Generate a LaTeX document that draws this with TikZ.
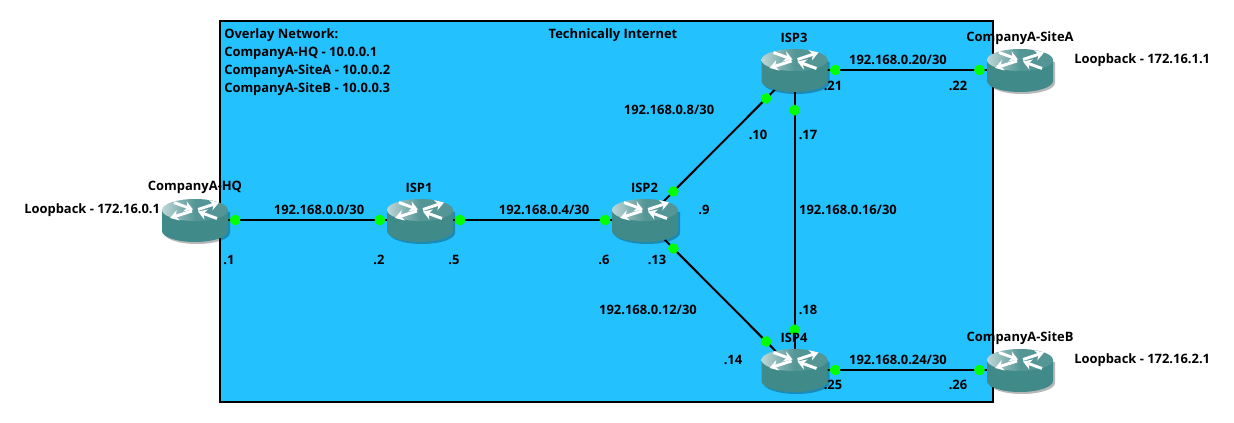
\documentclass[tikz,border=0pt]{standalone}
\usepackage{fontspec}
\setmainfont{Open Sans}
\usetikzlibrary{arrows.meta}
\definecolor{netblue}{RGB}{36,193,255}
\definecolor{routerbody}{RGB}{64,138,138}
\definecolor{routertop}{RGB}{84,150,150}
\definecolor{routerlight}{RGB}{190,214,214}
\definecolor{portgreen}{RGB}{0,255,0}
\tikzset{
    routerbox/.style={inner sep=0pt,minimum width=49.5pt,minimum height=32pt},
    link/.style={draw=black,line width=1.5pt},
    portdot/.style={circle,fill=portgreen,inner sep=0pt,minimum size=8pt},
    lbl/.style={font=\bfseries\fontsize{9.7}{11}\selectfont,text=black,inner sep=0pt,yshift=-.5pt},
    wing/.style={white,line width=2.2pt,-{Stealth[length=6.5pt,width=8pt]}},
    pics/router/.style={code={
        \fill[black,opacity=.28] (-31,-8) -- (-31,13) arc[start angle=180,end angle=360,x radius=24.75pt,y radius=8.25pt] -- (35,-8) -- cycle;
        \fill[routerbody] (-33,-10) -- (-33,11) arc[start angle=180,end angle=360,x radius=24.75pt,y radius=8.25pt] -- (33,-10) -- cycle;
        \shade[left color=routerlight,right color=routertop,middle color=routertop] (0,-10) ellipse[x radius=24.75pt,y radius=8.25pt];
        % arrows on the top
        \draw[wing] (-21,-17.5) -- (-2,-10.5);
        \draw[wing] (3,-10.5) -- (24,-17.5);
        \draw[wing] (-3,-9) -- (-25,-2);
        \draw[wing] (22,-1.5) -- (3,-8.5);
    }}
}
\begin{document}
\begin{tikzpicture}[x=.75pt,y=-.75pt]
    \useasboundingbox (0,0) rectangle (1234,423);
    % overlay box
    \draw[fill=netblue,line width=1.5pt] (220,21) rectangle (993,402);

    % routers
    \node[routerbox] (hq) at (195,220) {};
    \node[routerbox] (isp1) at (420,220) {};
    \node[routerbox] (isp2) at (645,220) {};
    \node[routerbox] (isp3) at (794.5,70) {};
    \node[routerbox] (isp4) at (794.5,370) {};
    \node[routerbox] (sitea) at (1020,70) {};
    \node[routerbox] (siteb) at (1020,370) {};

    % links
    \draw[link] (hq.center) -- (isp1.center) node[portdot,pos=.178] (p1) {} node[portdot,pos=.822] (p2) {};
    \draw[link] (isp1.center) -- (isp2.center) node[portdot,pos=.178] (p5) {} node[portdot,pos=.822] (p6) {};
    \draw[link] (isp2.center) -- (isp3.center) node[portdot,pos=.19] (p9) {} node[portdot,pos=.81] (p10) {};
    \draw[link] (isp2.center) -- (isp4.center) node[portdot,pos=.19] (p13) {} node[portdot,pos=.81] (p14) {};
    \draw[link] (isp3.center) -- (isp4.center) node[portdot,pos=.134] (p17) {} node[portdot,pos=.866] (p18) {};
    \draw[link] (isp3.center) -- (sitea.center) node[portdot,pos=.18] (p21) {} node[portdot,pos=.82] (p22) {};
    \draw[link] (isp4.center) -- (siteb.center) node[portdot,pos=.18] (p25) {} node[portdot,pos=.82] (p26) {};

    \foreach \r in {hq,isp1,isp2,isp3,isp4,sitea,siteb}
        \pic at (\r.center) {router};

    % router names
    \node[lbl] (nhq) at (195,187) {CompanyA-HQ};
    \node[lbl] (nisp1) at (419,187) {ISP1};
    \node[lbl] (nisp2) at (644.5,187) {ISP2};
    \node[lbl] (nisp3) at (794,37) {ISP3};
    \node[lbl] (nisp4) at (794,337) {ISP4};
    \node[lbl] (nsitea) at (1020,37) {CompanyA-SiteA};
    \node[lbl] (nsiteb) at (1020,337) {CompanyA-SiteB};

    % loopbacks
    \node[lbl,anchor=west] (lhq) at (24,209) {Loopback - 172.16.0.1};
    \node[lbl,anchor=west] (lsitea) at (1074,59) {Loopback - 172.16.1.1};
    \node[lbl,anchor=west] (lsiteb) at (1074,359) {Loopback - 172.16.2.1};

    % subnets
    \node[lbl] (s0) at (319,209) {192.168.0.0/30};
    \node[lbl] (s4) at (544,209) {192.168.0.4/30};
    \node[lbl] (s8) at (669,109) {192.168.0.8/30};
    \node[lbl] (s12) at (648,309) {192.168.0.12/30};
    \node[lbl] (s16) at (848,209) {192.168.0.16/30};
    \node[lbl] (s20) at (898,59) {192.168.0.20/30};
    \node[lbl] (s24) at (898,359) {192.168.0.24/30};

    % host parts
    \foreach \x/\y/\t [count=\n] in {229/259/.1,379/259/.2,454/259/.5,604/259/.6,704/209/.9,657/259/.13,758/134/.10,808/134/.17,833/85/.21,958/85/.22,808/309/.18,733/359/.14,833/384/.25,958/384/.26}
        \node[lbl] (h\n) at (\x,\y) {\t};

    % overlay text
    \node[lbl,anchor=west] (ov1) at (224,34) {Overlay Network:};
    \node[lbl,anchor=west] (ov2) at (224,52.5) {CompanyA-HQ - 10.0.0.1};
    \node[lbl,anchor=west] (ov3) at (224,70.5) {CompanyA-SiteA - 10.0.0.2};
    \node[lbl,anchor=west] (ov4) at (224,88.5) {CompanyA-SiteB - 10.0.0.3};
    \node[lbl] (inet) at (613,34) {Technically Internet};
\end{tikzpicture}
\end{document}
